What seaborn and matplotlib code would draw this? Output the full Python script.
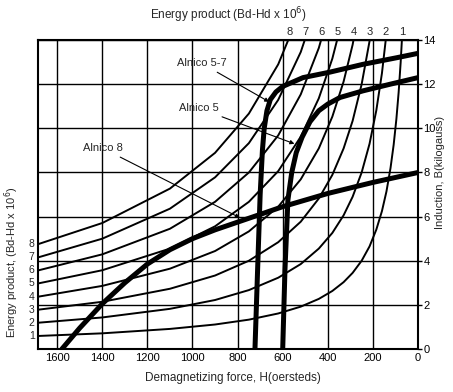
import matplotlib
matplotlib.use('Agg')
import matplotlib.pyplot as plt
import seaborn as sns
import pandas as pd

# constant energy product curves (Bd*Hd x 10^6)
energy_products = [1, 2, 3, 4, 5, 6, 7, 8]
h_grid = [1685, 1400, 1100, 900, 750, 620, 520, 440, 380, 330, 290,
          250, 215, 185, 160, 140, 122, 108, 96, 86, 77, 70]
b_energy = [
    [0.59, 0.71, 0.91, 1.11, 1.33, 1.61, 1.92, 2.27, 2.63, 3.03, 3.45,
     4.0, 4.65, 5.41, 6.25, 7.14, 8.2, 9.26, 10.42, 11.63, 12.99, 14.29],
    [1.19, 1.43, 1.82, 2.22, 2.67, 3.23, 3.85, 4.55, 5.26, 6.06, 6.9,
     8.0, 9.3, 10.81, 12.5, 14.29],
    [1.78, 2.14, 2.73, 3.33, 4.0, 4.84, 5.77, 6.82, 7.89, 9.09, 10.34,
     12.0, 13.95, 16.2],
    [2.37, 2.86, 3.64, 4.44, 5.33, 6.45, 7.69, 9.09, 10.53, 12.12, 13.79, 16.0],
    [2.97, 3.57, 4.55, 5.56, 6.67, 8.06, 9.62, 11.36, 13.16, 15.15],
    [3.56, 4.29, 5.45, 6.67, 8.0, 9.68, 11.54, 13.64, 15.79],
    [4.15, 5.0, 6.36, 7.78, 9.33, 11.29, 13.46, 15.91],
    [4.75, 5.71, 7.27, 8.89, 10.67, 12.9, 15.38],
]
# where each energy curve leaves the top of the frame (B = 14)
top_h = [71, 143, 214, 286, 357, 429, 500, 571]

# demagnetization curves
alnico57_h = [723, 710, 700, 690, 682, 670, 655, 630, 600, 510, 390, 245, 95, 0]
alnico57_b = [0, 4, 7, 9.0, 10.0, 10.8, 11.3, 11.65, 11.9, 12.3, 12.55, 12.9, 13.2, 13.4]
alnico5_h = [600, 590, 577, 560, 540, 514, 479, 440, 400, 346, 244, 124, 0]
alnico5_b = [0, 3.6, 6.75, 8.0, 8.9, 9.6, 10.3, 10.8, 11.1, 11.4, 11.7, 12.0, 12.3]
alnico8_h = [1579, 1500, 1400, 1300, 1200, 1100, 1000, 900, 800, 700, 600, 400, 200, 0]
alnico8_b = [0, 0.95, 2.05, 3.0, 3.85, 4.5, 5.0, 5.4, 5.75, 6.1, 6.45, 7.05, 7.55, 8.0]

x_ticks = [1600, 1400, 1200, 1000, 800, 600, 400, 200, 0]
y_ticks = [0, 2, 4, 6, 8, 10, 12, 14]

sns.set_style("white")
plt.rcParams['font.family'] = ['Liberation Sans', 'DejaVu Sans']

rows = []
for e, bs in zip(energy_products, b_energy):
    for h, b in zip(h_grid, bs):
        rows.append({'curve': e, 'H': h, 'B': b})
df_energy = pd.DataFrame(rows)

fig = plt.figure(figsize=(4.53, 3.92), dpi=100)
ax = fig.add_axes([0.0839, 0.1097, 0.8389, 0.788])

sns.lineplot(data=df_energy, x='H', y='B', units='curve', estimator=None,
             sort=False, color='black', lw=1.4, ax=ax, legend=False)

for hs, bs in [(alnico57_h, alnico57_b), (alnico5_h, alnico5_b), (alnico8_h, alnico8_b)]:
    sns.lineplot(x=hs, y=bs, sort=False, color='black', lw=3.6, ax=ax,
                 estimator=None)

ax.set_xlim(1685, 0)
ax.set_ylim(0, 14)
ax.set_xticks(x_ticks)
ax.set_xticklabels([str(t) for t in x_ticks], fontsize=8)
ax.set_yticks(y_ticks)
ax.set_yticklabels([str(t) for t in y_ticks], fontsize=8)
ax.yaxis.tick_right()
ax.tick_params(axis='y', length=3, width=1, pad=1, colors='black')
ax.tick_params(axis='x', length=0, pad=3, colors='black')
ax.grid(True, color='black', lw=1.0)
ax.set_xlabel('')
ax.set_ylabel('')
for s in ax.spines.values():
    s.set_color('black')
    s.set_linewidth(1.5)

# energy product labels on left and top edges
for e, bs in zip(energy_products, b_energy):
    ax.text(1700, bs[0], str(e), ha='right', va='center', fontsize=7.5)
for e, h in zip(energy_products, top_h):
    ax.text(h, 14.15, str(e), ha='center', va='bottom', fontsize=8)

arrow = dict(arrowstyle='-|>', lw=0.8, color='black', shrinkA=1, shrinkB=0,
             mutation_scale=6)
ax.annotate('Alnico 5-7', xy=(660, 11.2), xytext=(850, 12.95),
            ha='right', va='center', fontsize=8, arrowprops=arrow)
ax.annotate('Alnico 5', xy=(548, 9.3), xytext=(885, 10.92),
            ha='right', va='center', fontsize=8, arrowprops=arrow)
ax.annotate('Alnico 8', xy=(790, 5.95), xytext=(1310, 9.1),
            ha='right', va='center', fontsize=8, arrowprops=arrow)

fig.text(0.503, 0.962, 'Energy product (Bd-Hd x 10$^6$)', ha='center',
         va='center', fontsize=8.5)
fig.text(0.515, 0.035, 'Demagnetizing force, H(oersteds)', ha='center',
         va='center', fontsize=8.5)
fig.text(0.026, 0.332, 'Energy product, (Bd-Hd x 10$^6$)', ha='center',
         va='center', rotation=90, fontsize=8)
fig.text(0.972, 0.561, 'Induction, B(kilogauss)', ha='center',
         va='center', rotation=90, fontsize=8)

fig.savefig('out.png', dpi=100)
plt.close(fig)
